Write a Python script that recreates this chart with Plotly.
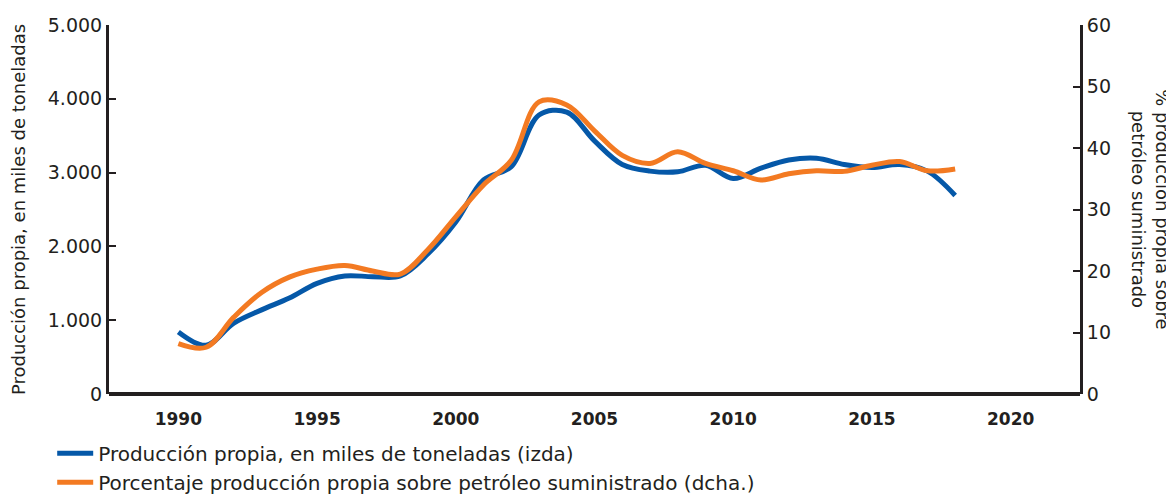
import plotly.graph_objects as go

years = list(range(1990, 2019))
produccion = [840, 660, 960, 1140, 1300, 1500, 1600, 1590, 1600, 1900,
              2330, 2900, 3080, 3780, 3820, 3430, 3110, 3020, 3010, 3100,
              2920, 3060, 3170, 3195, 3110, 3070, 3110, 3020, 2690]
porcentaje = [8.2, 7.6, 12.5, 16.5, 19.0, 20.3, 20.9, 20.0, 19.5, 23.5,
              28.8, 34.0, 38.0, 47.5, 47.0, 42.8, 38.8, 37.5, 39.4, 37.5,
              36.3, 34.8, 35.8, 36.3, 36.2, 37.2, 37.8, 36.3, 36.6]

x_ticks = [1990, 1995, 2000, 2005, 2010, 2015, 2020]
y_left_ticks = [0, 1000, 2000, 3000, 4000, 5000]
y_left_labels = ["0", "1.000", "2.000", "3.000", "4.000", "5.000"]
y_right_ticks = [0, 10, 20, 30, 40, 50, 60]

BLUE = "#0558A8"
ORANGE = "#F37A22"
DARK = "#231F20"
FONT = "DejaVu Sans"

fig = go.Figure()
fig.add_trace(go.Scatter(
    x=years, y=produccion, mode="lines",
    name="Producción propia, en miles de toneladas (izda)",
    line=dict(color=BLUE, width=5, shape="spline", smoothing=1.0),
))
fig.add_trace(go.Scatter(
    x=years, y=porcentaje, mode="lines", yaxis="y2",
    name="Porcentaje producción propia sobre petróleo suministrado (dcha.)",
    line=dict(color=ORANGE, width=5, shape="spline", smoothing=1.0),
))

# the page adds an 8 px body margin, so the figure is 8 px smaller
fig.update_layout(
    width=1166, height=486,
    margin=dict(l=101, r=94, t=17, b=100, autoexpand=False),
    paper_bgcolor="white", plot_bgcolor="white",
    font=dict(family=FONT, color=DARK, size=17),
    showlegend=True,
    legend=dict(
        orientation="v", x=-0.0585, y=-0.108, xanchor="left", yanchor="top",
        font=dict(size=20, color=DARK), bgcolor="rgba(0,0,0,0)",
        itemwidth=36, tracegroupgap=0,
    ),
    xaxis=dict(
        range=[1987.5, 2022.5], tickvals=x_ticks, showgrid=False,
        zeroline=False, showline=False, ticks="", ticklabelstandoff=13,
        tickfont=dict(family=FONT, size=17, color=DARK, weight="bold"),
    ),
    yaxis=dict(
        range=[0, 5000], tickvals=y_left_ticks, ticktext=y_left_labels,
        showgrid=False, zeroline=False, showline=True, linecolor=DARK, linewidth=3,
        ticks="inside", ticklen=7, tickwidth=2, tickcolor=DARK,
        tickfont=dict(size=19, color=DARK),
        title=dict(text="Producción propia, en miles de toneladas",
                   font=dict(size=18, color=DARK), standoff=19),
    ),
    yaxis2=dict(
        range=[0, 60], tickvals=y_right_ticks, overlaying="y", side="right",
        showgrid=False, zeroline=False, showline=True, linecolor=DARK, linewidth=3,
        ticks="inside", ticklen=7, tickwidth=2, tickcolor=DARK,
        tickfont=dict(size=19, color=DARK),
    ),
    annotations=[dict(
        text="% producción propia sobre<br>petróleo suministrado",
        xref="paper", yref="paper", x=1.0735, y=0.50,
        xanchor="center", yanchor="middle", textangle=90, showarrow=False,
        font=dict(size=18, color=DARK),
    )],
    shapes=[dict(
        type="line", xref="paper", yref="paper", x0=0, x1=1, y0=0, y1=0,
        line=dict(color=DARK, width=4),
    )],
)

fig.write_html("out.html")
